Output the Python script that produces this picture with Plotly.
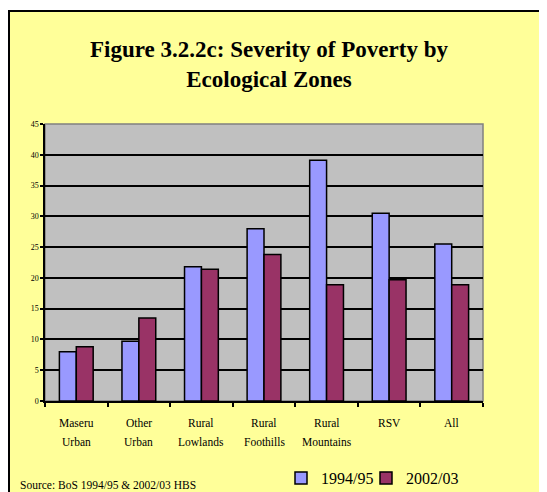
import plotly.graph_objects as go

categories = ["Maseru Urban", "Other Urban", "Rural Lowlands", "Rural Foothills",
              "Rural Mountains", "RSV", "All"]
label_line1 = ["Maseru", "Other", "Rural", "Rural", "Rural", "RSV", "All"]
label_line2 = ["Urban", "Urban", "Lowlands", "Foothills", "Mountains", "", ""]
series_1994 = [8.0, 9.7, 21.8, 28.0, 39.1, 30.5, 25.5]
series_2002 = [8.8, 13.5, 21.4, 23.8, 18.9, 19.7, 18.9]
y_ticks = [0, 5, 10, 15, 20, 25, 30, 35, 40, 45]
title_lines = ["Figure 3.2.2c: Severity of Poverty by", "Ecological Zones"]

# page has an 8px body margin; work in page coordinates and convert
OFF = 8
W, H = 547 - OFF, 492 - OFF
PL, PR, PT, PB = 45, 483, 124, 401   # plot area in page pixels
L, R, T, B = PL - OFF, W - (PR - OFF), PT - OFF, H - (PB - OFF)
pw, ph = W - L - R, H - T - B

def px2x(px):
    return (px - OFF - L) / pw

def py2y(py):
    return (H - B - (py - OFF)) / ph

serif = "Liberation Serif, Times New Roman, serif"

fig = go.Figure()
fig.add_trace(go.Bar(x=categories, y=series_1994, name="1994/95", legend="legend",
                     showlegend=True,
                     marker=dict(color="#9999FF", line=dict(color="black", width=1.5))))
fig.add_trace(go.Bar(x=categories, y=series_2002, name="2002/03", legend="legend2",
                     showlegend=True,
                     marker=dict(color="#993366", line=dict(color="black", width=1.5))))

shapes = [
    dict(type="rect", xref="paper", yref="paper", layer="below",
         x0=px2x(OFF + 1), x1=px2x(560), y0=py2y(505), y1=py2y(11),
         fillcolor="#FFFF99", line=dict(color="black", width=2)),
    dict(type="rect", xref="paper", yref="paper", layer="below",
         x0=0, x1=1, y0=0, y1=1,
         fillcolor="#C0C0C0", line=dict(color="#808080", width=1.5)),
]

annotations = []
for c, a, b in zip(categories, label_line1, label_line2):
    annotations.append(dict(x=c, xref="x", y=py2y(423), yref="paper", text=a,
                            showarrow=False, font=dict(family=serif, size=11.5, color="black"),
                            xanchor="center", yanchor="middle"))
    if b:
        annotations.append(dict(x=c, xref="x", y=py2y(441.5), yref="paper", text=b,
                                showarrow=False, font=dict(family=serif, size=11.5, color="black"),
                                xanchor="center", yanchor="middle"))
annotations.append(dict(x=px2x(18), xref="paper", y=py2y(485), yref="paper",
                        text="Source: BoS 1994/95 & 2002/03 HBS", showarrow=False,
                        font=dict(family=serif, size=11.5, color="black"),
                        xanchor="left", yanchor="middle"))

legend_common = dict(orientation="h", xref="paper", xanchor="left", yref="paper",
                     yanchor="middle", bgcolor="rgba(0,0,0,0)",
                     font=dict(family=serif, size=16, color="black"), itemwidth=30)

fig.update_layout(
    width=W, height=H,
    margin=dict(l=L, r=R, t=T, b=B, autoexpand=False),
    paper_bgcolor="white",
    plot_bgcolor="rgba(0,0,0,0)",
    showlegend=True,
    bargap=0.46, bargroupgap=0,
    title=dict(text="<b>" + "<br>".join(title_lines) + "</b>",
               font=dict(family=serif, size=23, color="black"),
               x=px2x(269), xref="paper", xanchor="center",
               y=1 - (57 - OFF) / H, yref="container", yanchor="middle"),
    shapes=shapes,
    annotations=annotations,
    legend=dict(x=px2x(281), y=py2y(478), **legend_common),
    legend2=dict(x=px2x(366), y=py2y(478), **legend_common),
    xaxis=dict(type="category", showticklabels=False, ticks="outside", ticklen=4,
               tickcolor="black", tickwidth=1.5, tickson="boundaries",
               showline=True, linecolor="black", linewidth=1.5, showgrid=False,
               zeroline=False),
    yaxis=dict(range=[0, 45], tickvals=y_ticks, ticks="outside", ticklen=3,
               tickcolor="black", tickwidth=1.5, showline=True, linecolor="black",
               linewidth=1.5, showgrid=True, gridcolor="black", gridwidth=1.5,
               zeroline=False, tickfont=dict(family=serif, size=8, color="black")),
)

fig.write_html("out.html")
